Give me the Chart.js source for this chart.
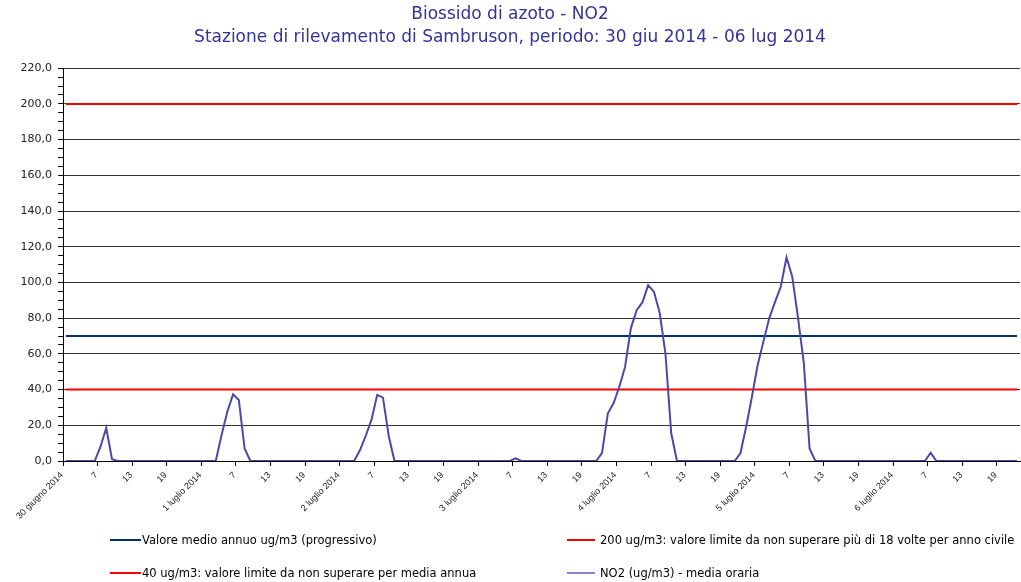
<!DOCTYPE html>
<html>
<head>
<meta charset="utf-8">
<script src="https://cdn.jsdelivr.net/npm/chart.js@4.4.1/dist/chart.umd.min.js"></script>
<style>
  body { margin: 0; background: #fff; }
  #wrap { position: relative; width: 1021px; height: 582px; }
  #legend { position: absolute; left: 0; top: 0; width: 1021px; height: 582px; pointer-events: none;
            font-family: "DejaVu Sans", sans-serif; font-size: 11.5px; color: #000; }
  .item { position: absolute; white-space: nowrap; line-height: 14px; }
  .item span.ln { position: absolute; height: 2px; }
</style>
</head>
<body>
<div id="wrap">
  <canvas id="chart" width="1021" height="582"></canvas>
  <div id="legend"></div>
</div>
<script>
// days shown on the x axis (one tick label per day at hour 1)
var days = ["30 giugno 2014", "1 luglio 2014", "2 luglio 2014", "3 luglio 2014",
            "4 luglio 2014", "5 luglio 2014", "6 luglio 2014"];

// NO2 hourly values (ug/m3), 24 per day, last day incomplete
var no2 = [
  0, 0, 0, 0, 0, 0, 8, 18.5, 1, 0, 0, 0, 0, 0, 0, 0, 0, 0, 0, 0, 0, 0, 0, 0,
  0, 0, 0, 14.5, 27.6, 37.3, 34.2, 7, 0, 0, 0, 0, 0, 0, 0, 0, 0, 0, 0, 0, 0, 0, 0, 0,
  0, 0, 0, 6, 14, 23, 37, 35.5, 14, 0, 0, 0, 0, 0, 0, 0, 0, 0, 0, 0, 0, 0, 0, 0,
  0, 0, 0, 0, 0, 0, 1.5, 0, 0, 0, 0, 0, 0, 0, 0, 0, 0, 0, 0, 0, 0, 4.6, 26.6, 32.3,
  41.6, 52.8, 74.3, 84.5, 88.8, 98.5, 94.8, 83, 60.3, 15.5, 0, 0, 0, 0, 0, 0, 0, 0, 0, 0, 0, 4.3, 19.2, 36,
  53.8, 67, 79.9, 89, 97.6, 114, 103.2, 80, 55, 7, 0, 0, 0, 0, 0, 0, 0, 0, 0, 0, 0, 0, 0, 0,
  0, 0, 0, 0, 0, 0, 4.6, 0, 0, 0, 0, 0, 0, 0, 0, 0, 0, 0, 0, 0, 0, 0
];

// reference levels
var mediaAnnua = 70;
var limiteOrario = 200;
var limiteAnnuo = 40;

var seriesNames = [
  "Valore medio annuo ug/m3 (progressivo)",
  "200 ug/m3: valore limite da non superare più di 18 volte per anno civile",
  "40 ug/m3: valore limite da non superare per media annua",
  "NO2 (ug/m3)  - media oraria"
];

var yTicks = [0, 20, 40, 60, 80, 100, 120, 140, 160, 180, 200, 220];

// hour labels: day name at hour 1, then the hour number
var labels = no2.map(function (v, i) {
  var h = i % 24 + 1;
  return h === 1 ? days[Math.floor(i / 24)] : String(h);
});
function flat(v) { return no2.map(function () { return v; }); }

var chart = new Chart(document.getElementById("chart"), {
  type: "line",
  data: {
    labels: labels,
    datasets: [
      { label: seriesNames[0], data: flat(mediaAnnua), borderColor: "#003366", borderWidth: 2, order: 3 },
      { label: seriesNames[1], data: flat(limiteOrario), borderColor: "#ff0000", borderWidth: 2, order: 2 },
      { label: seriesNames[2], data: flat(limiteAnnuo), borderColor: "#ff0000", borderWidth: 2, order: 1 },
      { label: seriesNames[3], data: no2, borderColor: "#4a4aa6", borderWidth: 2, order: 0 }
    ]
  },
  options: {
    responsive: false,
    animation: false,
    devicePixelRatio: 1,
    elements: { point: { radius: 0 }, line: { tension: 0 } },
    layout: { padding: { left: 0, right: 1, top: 0, bottom: 61 } },
    plugins: {
      legend: { display: false },
      tooltip: { enabled: false },
      title: {
        display: true,
        text: ["Biossido di azoto - NO2",
               "Stazione di rilevamento di Sambruson, periodo: 30 giu 2014 - 06 lug 2014"],
        color: "#333399",
        font: { family: "DejaVu Sans", size: 17, weight: "normal", lineHeight: 1.3 },
        padding: { top: 4, bottom: 20 }
      }
    },
    scales: {
      x: {
        type: "category",
        offset: true,
        afterFit: function (s) { s.height = 60; s.paddingLeft = 0; s.paddingRight = 0; },
        border: { color: "#000", width: 1 },
        grid: {
          offset: true,
          drawOnChartArea: false,
          tickLength: 5,
          tickColor: function (ctx) { return ctx.index % 6 === 0 ? "#000" : "rgba(0,0,0,0)"; }
        },
        ticks: {
          autoSkip: false,
          maxRotation: 45,
          minRotation: 45,
          padding: 4,
          labelOffset: -4,
          color: "#222",
          font: { family: "Liberation Sans", size: 9 },
          callback: function (v, i) { return i % 6 === 0 ? labels[i] : ""; }
        }
      },
      y: {
        min: yTicks[0],
        max: yTicks[yTicks.length - 1],
        afterFit: function (s) { s.width = 63; },
        border: { color: "#000", width: 1 },
        grid: {
          tickLength: 5,
          tickColor: "#000",
          color: function (ctx) {
            return ctx.tick && yTicks.indexOf(ctx.tick.value) >= 0 ? "#333" : "rgba(0,0,0,0)";
          }
        },
        ticks: {
          stepSize: 5,
          autoSkip: false,
          padding: 6,
          color: "#222",
          font: { family: "DejaVu Sans", size: 11 },
          callback: function (v) {
            return yTicks.indexOf(v) >= 0 ? v.toFixed(1).replace(".", ",") : "";
          }
        }
      }
    }
  }
});

// legend laid out in two columns under the plot
var legendPos = [
  { x: 110, w: 31, tx: 142, y: 540 },
  { x: 567, w: 28, tx: 600, y: 540 },
  { x: 110, w: 31, tx: 142, y: 573 },
  { x: 567, w: 28, tx: 600, y: 573 }
];
var legendColors = ["#003366", "#ff0000", "#ff0000", "#8585c8"];
var legend = document.getElementById("legend");
chart.data.datasets.forEach(function (ds, i) {
  var p = legendPos[i];
  var item = document.createElement("div");
  item.className = "item";
  item.style.left = p.tx + "px";
  item.style.top = (p.y - 7) + "px";
  item.textContent = ds.label;
  var ln = document.createElement("span");
  ln.className = "ln";
  ln.style.left = (p.x - p.tx) + "px";
  ln.style.width = p.w + "px";
  ln.style.top = "6px";
  ln.style.background = legendColors[i];
  item.appendChild(ln);
  legend.appendChild(item);
});
</script>
</body>
</html>
